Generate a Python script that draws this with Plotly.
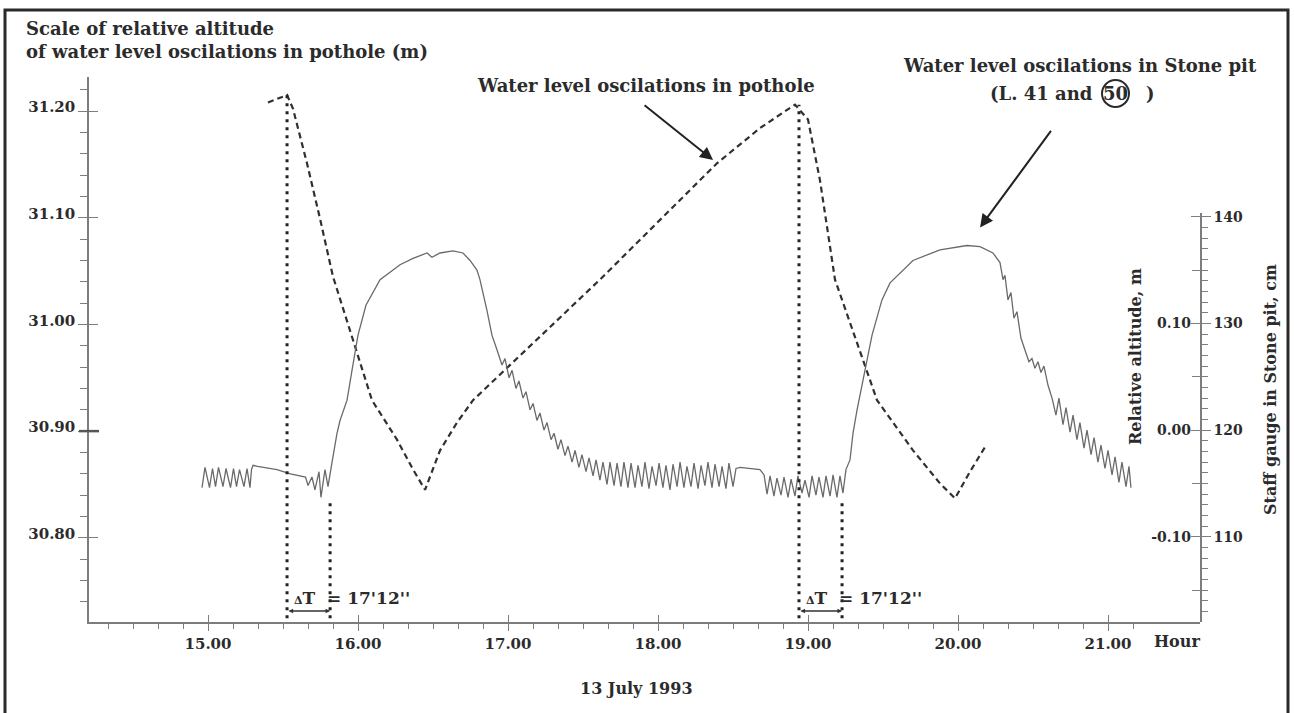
import plotly.graph_objects as go

# ---------------- data ----------------
# Water level in pothole (left axis, absolute altitude in m)
pothole_hour = [15.400, 15.527, 15.567, 15.660, 15.747, 15.833, 16.093, 16.260, 16.367, 16.447,
                16.547, 16.660, 16.767, 17.080, 17.613, 18.393, 18.680, 18.913, 19.000, 19.080,
                19.180, 19.460, 19.700, 19.880, 19.980, 20.080, 20.180]
pothole_alt = [31.208, 31.215, 31.202, 31.151, 31.099, 31.045, 30.929, 30.892, 30.864, 30.845,
               30.882, 30.908, 30.929, 30.971, 31.042, 31.151, 31.184, 31.206, 31.192, 31.135,
               31.042, 30.929, 30.882, 30.851, 30.837, 30.862, 30.885]

# Water level in Stone pit (right axis, relative altitude in m)
stone_hour = [
    14.960, 14.980, 15.010, 15.030, 15.050, 15.070, 15.100, 15.120, 15.150, 15.170, 15.190, 15.210,
    15.240, 15.260, 15.280, 15.290,
    15.300, 15.330, 15.460, 15.550, 15.650,
    15.667, 15.693, 15.713, 15.740, 15.753, 15.780, 15.800, 15.827, 15.860, 15.880, 15.927,
    15.960, 16.000, 16.053, 16.147, 16.280, 16.367, 16.460, 16.493, 16.547, 16.633, 16.700, 16.747,
    16.793, 16.813,
    16.860, 16.893, 16.927, 16.960, 16.980, 17.007, 17.027, 17.053, 17.073, 17.100, 17.120, 17.147,
    17.167, 17.193, 17.213, 17.240, 17.260, 17.287, 17.307, 17.333, 17.353, 17.380, 17.400, 17.427,
    17.447, 17.473, 17.493, 17.520, 17.540, 17.567, 17.587, 17.613, 17.633, 17.660, 17.680, 17.707,
    17.727, 17.753, 17.773, 17.800,
    17.820, 17.847, 17.867, 17.893, 17.913, 17.940, 17.960, 17.987, 18.007, 18.033, 18.053, 18.080,
    18.100, 18.127, 18.147, 18.173, 18.193, 18.220, 18.240, 18.267, 18.287, 18.313, 18.333, 18.360,
    18.380, 18.407, 18.427, 18.453, 18.473, 18.500, 18.520,
    18.547, 18.680, 18.707,
    18.727, 18.747, 18.773, 18.793, 18.820, 18.840, 18.867, 18.887, 18.913, 18.933, 18.960, 18.980,
    19.007, 19.027, 19.053, 19.073, 19.100, 19.120, 19.147, 19.167, 19.193, 19.213, 19.233,
    19.253, 19.280, 19.300, 19.327, 19.347, 19.380, 19.427, 19.493, 19.547, 19.700, 19.880, 20.060,
    20.147, 20.233, 20.280, 20.300,
    20.313, 20.333, 20.353, 20.373, 20.393, 20.420, 20.447, 20.473, 20.493, 20.513, 20.533, 20.553,
    20.573, 20.600, 20.627,
    20.653, 20.673, 20.700, 20.720, 20.747, 20.767, 20.793, 20.813, 20.840, 20.860, 20.887, 20.907,
    20.933, 20.953, 20.980, 21.000, 21.027, 21.047, 21.073, 21.093, 21.120, 21.140, 21.153]
stone_rel = [
    -0.054, -0.035, -0.054, -0.036, -0.053, -0.035, -0.053, -0.036, -0.054, -0.036, -0.053, -0.037,
    -0.053, -0.036, -0.054, -0.037,
    -0.033, -0.034, -0.037, -0.041, -0.044,
    -0.052, -0.044, -0.056, -0.039, -0.063, -0.037, -0.053, -0.030, -0.003, 0.009, 0.028,
    0.056, 0.089, 0.117, 0.141, 0.155, 0.161, 0.166, 0.162, 0.166, 0.168, 0.166, 0.159,
    0.150, 0.141,
    0.112, 0.089, 0.075, 0.061, 0.067, 0.049, 0.056, 0.039, 0.046, 0.030, 0.036, 0.019,
    0.025, 0.009, 0.016, 0.000, 0.007, -0.009, -0.003, -0.018, -0.009, -0.024, -0.015, -0.030,
    -0.019, -0.035, -0.023, -0.039, -0.026, -0.043, -0.028, -0.047, -0.030, -0.051, -0.030, -0.052,
    -0.031, -0.053, -0.030, -0.054,
    -0.031, -0.054, -0.033, -0.053, -0.030, -0.055, -0.034, -0.052, -0.031, -0.054, -0.033, -0.056,
    -0.032, -0.053, -0.030, -0.054, -0.034, -0.053, -0.031, -0.055, -0.033, -0.052, -0.030, -0.054,
    -0.032, -0.053, -0.034, -0.055, -0.031, -0.053, -0.036,
    -0.035, -0.037, -0.042,
    -0.060, -0.043, -0.062, -0.045, -0.061, -0.044, -0.063, -0.046, -0.062, -0.043, -0.059, -0.047,
    -0.063, -0.043, -0.061, -0.044, -0.063, -0.043, -0.062, -0.042, -0.063, -0.043, -0.059,
    -0.037, -0.028, -0.003, 0.019, 0.033, 0.056, 0.089, 0.122, 0.138, 0.159, 0.169, 0.173,
    0.172, 0.166, 0.157, 0.141,
    0.145, 0.122, 0.129, 0.105, 0.111, 0.086, 0.075, 0.064, 0.067, 0.058, 0.064, 0.054,
    0.060, 0.042, 0.030,
    0.014, 0.030, 0.005, 0.021, -0.002, 0.014, -0.009, 0.007, -0.017, 0.000, -0.023, -0.007,
    -0.030, -0.014, -0.036, -0.019, -0.042, -0.025, -0.049, -0.030, -0.053, -0.034, -0.054]

# Phase shift markers (pothole peak -> Stone pit rise), dT = 17'12''
dt_start = [15.527, 18.940]
dt_end = [15.814, 19.227]
dt_start_top = [31.215, 31.206]
dt_end_top = [30.835, 30.835]
dt_label = "17'12''"

x_ticks = [15, 16, 17, 18, 19, 20, 21]
left_ticks = [30.80, 30.90, 31.00, 31.10, 31.20]
rel_ticks = [-0.10, 0.00, 0.10, 0.20]
gauge_ticks = [110, 120, 130, 140]

# ---------------- layout constants ----------------
W, H = 1294, 713
ML, MR, MT, MB = 89, 94, 77, 91
PW, PH = W - ML - MR, H - MT - MB
X_RANGE = [14.2067, 21.6133]
Y_RANGE = [30.7211, 31.2319]
Y2_RANGE = [-0.1799, 0.2035]
Y2_DOMAIN = [0, 0.7505]
Y3_RANGE = [120 + 100 * Y2_RANGE[0], 120 + 100 * Y2_RANGE[1]]

FONT = "DejaVu Serif"
TXT = "#2b2b2b"
AXC = "#7d7d7d"


def px(x):
    return (x - ML) / PW


def py(y):
    return (H - MB - y) / PH


def f(size):
    return dict(family=FONT, size=size, color=TXT, weight="bold")


fig = go.Figure()
fig.add_trace(go.Scatter(x=stone_hour, y=stone_rel, xaxis="x", yaxis="y2", mode="lines",
                         line=dict(color="#6a6a6a", width=1.3), hoverinfo="skip", showlegend=False))
fig.add_trace(go.Scatter(x=pothole_hour, y=pothole_alt, xaxis="x", yaxis="y", mode="lines",
                         line=dict(color="#303030", width=2.2, dash="6px,4px"),
                         hoverinfo="skip", showlegend=False))
# empty traces to activate the extra overlay axes
fig.add_trace(go.Scatter(x=[None], y=[None], xaxis="x2", yaxis="y4", showlegend=False))
fig.add_trace(go.Scatter(x=[None], y=[None], xaxis="x", yaxis="y3", showlegend=False))

shapes = []
for i in range(len(dt_start)):
    for xv, top in ((dt_start[i], dt_start_top[i]), (dt_end[i], dt_end_top[i])):
        shapes.append(dict(type="line", xref="x", yref="y", x0=xv, x1=xv, y0=Y_RANGE[0] - 0.004,
                           y1=top, line=dict(color="#222", width=3, dash="3px,5px")))
# thick zero tick on left axis
shapes.append(dict(type="line", xref="paper", yref="y", x0=px(ML - 10), x1=px(ML + 10), y0=30.90,
                   y1=30.90, line=dict(color="#555", width=2.5)))
# outer frame
shapes.append(dict(type="rect", xref="paper", yref="paper", x0=px(5), x1=px(1288), y0=py(740),
                   y1=py(10), line=dict(color="#2a2a2a", width=3)))
# circle around "50"
shapes.append(dict(type="circle", xref="paper", yref="paper", x0=px(1102), x1=px(1129),
                   y0=py(107), y1=py(80), line=dict(color="#2a2a2a", width=2)))


def label(text, x, y, size=18, **kw):
    d = dict(text=text, xref="paper", yref="paper", x=px(x), y=py(y), xanchor="center",
             yanchor="middle", showarrow=False, font=f(size))
    d.update(kw)
    return d


annotations = [
    label("Scale of relative altitude<br>of water level oscilations in pothole (m)", 24, 16,
          xanchor="left", yanchor="top", align="left"),
    label("Water level oscilations in pothole", 646, 85),
    label("Water level oscilations in Stone pit", 1080, 65),
    label("(L. 41 and", 1095, 93, xanchor="right"),
    label("50", 1115, 93),
    label(")", 1150, 93),
    dict(text="", x=18.367, y=31.154, xref="x", yref="y", showarrow=True, ax=-70, ay=-56,
         arrowhead=2, arrowsize=1.3, arrowwidth=2, arrowcolor="#222"),
    dict(text="", x=20.147, y=0.190, xref="x", yref="y2", showarrow=True, ax=72, ay=-98,
         arrowhead=2, arrowsize=1.3, arrowwidth=2, arrowcolor="#222"),
    label("Relative altitude, m", 1135, 357, size=16, textangle=-90),
    label("Staff gauge in Stone pit, cm", 1270, 390, size=16, textangle=-90),
    label("Hour", 1177, 641, size=16),
    label("13 July 1993", 636, 688, size=16),
]
for i in range(len(dt_start)):
    annotations.append(dict(text="", x=dt_end[i], y=30.7314, ax=dt_start[i], ay=30.7314,
                            xref="x", yref="y", axref="x", ayref="y", showarrow=True,
                            arrowhead=2, startarrowhead=2, arrowside="end+start", arrowsize=0.7,
                            arrowwidth=1.3, arrowcolor="#333"))
    annotations.append(dict(text="<span style='font-size:11px'>\u0394</span>T&nbsp;&nbsp;= " + dt_label,
                            x=dt_start[i] + 0.03, y=30.7436, xref="x", yref="y",
                            xanchor="left", yanchor="middle", showarrow=False, font=f(17)))

axis_common = dict(showgrid=False, zeroline=False, showline=True, linecolor=AXC, linewidth=1.5,
                   tickcolor=AXC, tickwidth=1.3)

fig.update_layout(
    width=W, height=H, margin=dict(l=ML, r=MR, t=MT, b=MB, pad=0),
    paper_bgcolor="white", plot_bgcolor="rgba(0,0,0,0)", showlegend=False,
    font=dict(family=FONT, color=TXT),
    xaxis=dict(range=X_RANGE, tickvals=x_ticks, ticktext=["%.2f" % v for v in x_ticks],
               ticks="outside", ticklen=7, tickfont=f(15),
               minor=dict(dtick=1 / 6, tick0=15, ticks="outside", ticklen=5, tickcolor=AXC,
                          tickwidth=1.1),
               anchor="y", **axis_common),
    xaxis2=dict(range=X_RANGE, overlaying="x", anchor="y", side="bottom", tickvals=x_ticks,
                ticks="inside", ticklen=7, showticklabels=False, **axis_common),
    yaxis=dict(range=Y_RANGE, tickvals=left_ticks, ticktext=["%.2f" % v for v in left_ticks],
               ticks="outside", ticklen=9, tickfont=f(15), ticklabelshift=-4,
               minor=dict(dtick=0.02, tick0=30.8, ticks="outside", ticklen=7, tickcolor=AXC,
                          tickwidth=1.1),
               anchor="x", **axis_common),
    yaxis4=dict(range=Y_RANGE, overlaying="y", anchor="x", side="left", tickvals=left_ticks,
                ticks="inside", ticklen=9, showticklabels=False, **axis_common),
    yaxis2=dict(range=Y2_RANGE, domain=Y2_DOMAIN, anchor="x", side="right",
                tickvals=rel_ticks, ticktext=["%.2f" % v for v in rel_ticks],
                ticks="inside", ticklen=9, ticklabelposition="inside", tickfont=f(14),
                minor=dict(dtick=0.05, tick0=0, ticks="inside", ticklen=8, tickcolor=AXC,
                           tickwidth=1.1),
                **axis_common),
    yaxis3=dict(range=Y3_RANGE, overlaying="y2", anchor="x", side="right",
                tickvals=gauge_ticks, ticktext=[str(v) for v in gauge_ticks],
                ticks="outside", ticklen=9, tickfont=f(14),
                minor=dict(dtick=1, tick0=100, ticks="outside", ticklen=6, tickcolor=AXC,
                           tickwidth=1),
                **axis_common),
    shapes=shapes, annotations=annotations,
)

fig.write_html("out.html")
